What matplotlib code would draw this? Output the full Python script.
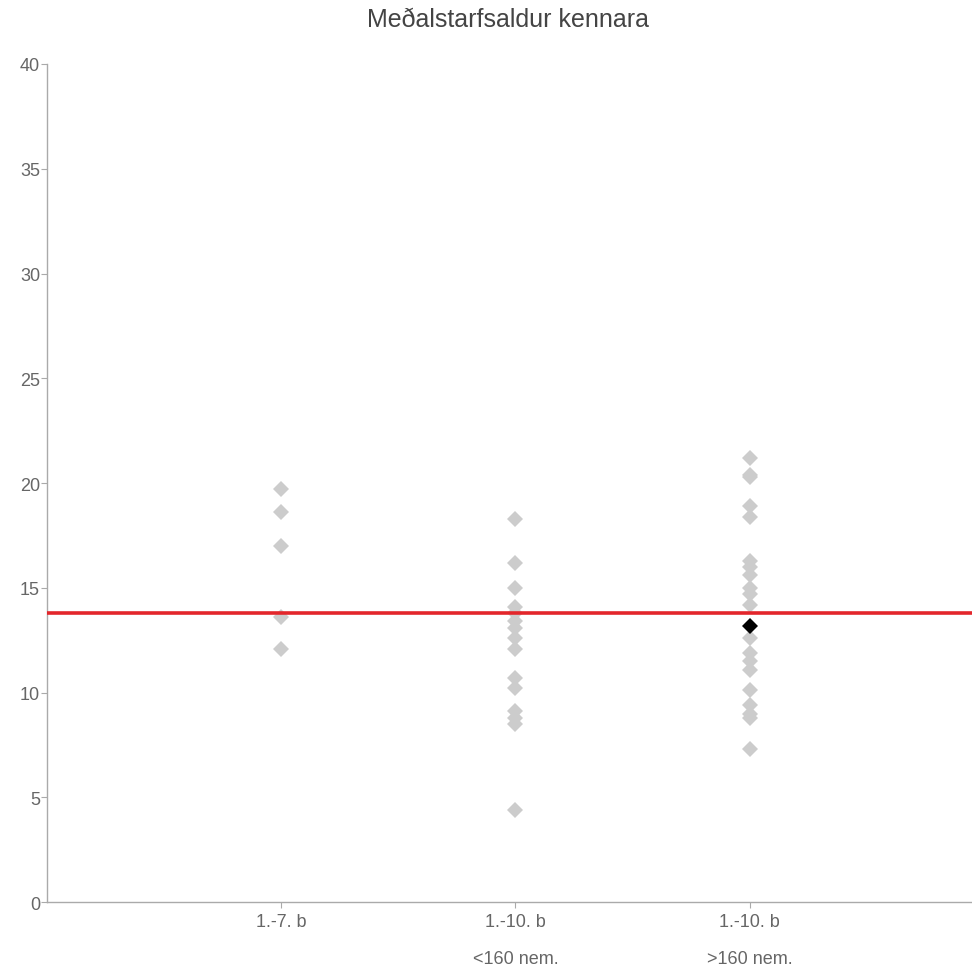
import matplotlib
matplotlib.use("Agg")
import matplotlib.pyplot as plt

plt.rcParams['font.family'] = ['Liberation Sans', 'DejaVu Sans']

title = "Meðalstarfsaldur kennara"
categories = ["1.-7. b", "1.-10. b\n<160 nem.", "1.-10. b\n>160 nem."]
cat_pos = [1, 2, 3]

group1 = [19.7, 18.6, 17.0, 13.6, 12.1]
group2 = [18.3, 16.2, 15.0, 14.1, 13.8, 13.4, 13.1, 12.6, 12.1, 10.7, 10.2, 9.1, 8.8, 8.5, 4.4]
group3 = [21.2, 20.4, 20.3, 18.9, 18.4, 16.3, 16.0, 15.6, 15.0, 14.7, 14.2,
          12.6, 11.9, 11.5, 11.1, 10.1, 9.4, 9.0, 8.8, 7.3]
highlight_cat = 3
highlight_value = 13.2
average = 13.8

fig = plt.figure(figsize=(9.72, 9.70), dpi=100)
ax = fig.add_axes([0.0484, 0.069, 0.9516, 0.864])

grey = "#cccccc"
for pos, vals in zip(cat_pos, [group1, group2, group3]):
    ax.plot([pos] * len(vals), vals, linestyle='none', marker='D',
            markersize=8, color=grey, markeredgewidth=0, zorder=2)

ax.axhline(average, color="#e3262b", linewidth=2.6, zorder=3)
ax.plot([highlight_cat], [highlight_value], linestyle='none', marker='D',
        markersize=8, color="black", markeredgewidth=0, zorder=4)

ax.set_xlim(0, 3.95)
ax.set_ylim(0, 40)
ax.set_yticks(range(0, 41, 5))
ax.set_xticks(cat_pos)
ax.set_xticklabels(categories, linespacing=2.5)

for s in ['top', 'right']:
    ax.spines[s].set_visible(False)
for s in ['left', 'bottom']:
    ax.spines[s].set_color("#aaaaaa")
    ax.spines[s].set_linewidth(1.0)

ax.tick_params(axis='both', colors="#aaaaaa", labelcolor="#666666",
               labelsize=13, length=4, width=0.8)
ax.tick_params(axis='x', pad=4)
ax.tick_params(axis='y', pad=1)

fig.text(0.5225, 0.979, title, ha='center', va='center', fontsize=18, color="#444444")

fig.savefig("out.png", dpi=100)
